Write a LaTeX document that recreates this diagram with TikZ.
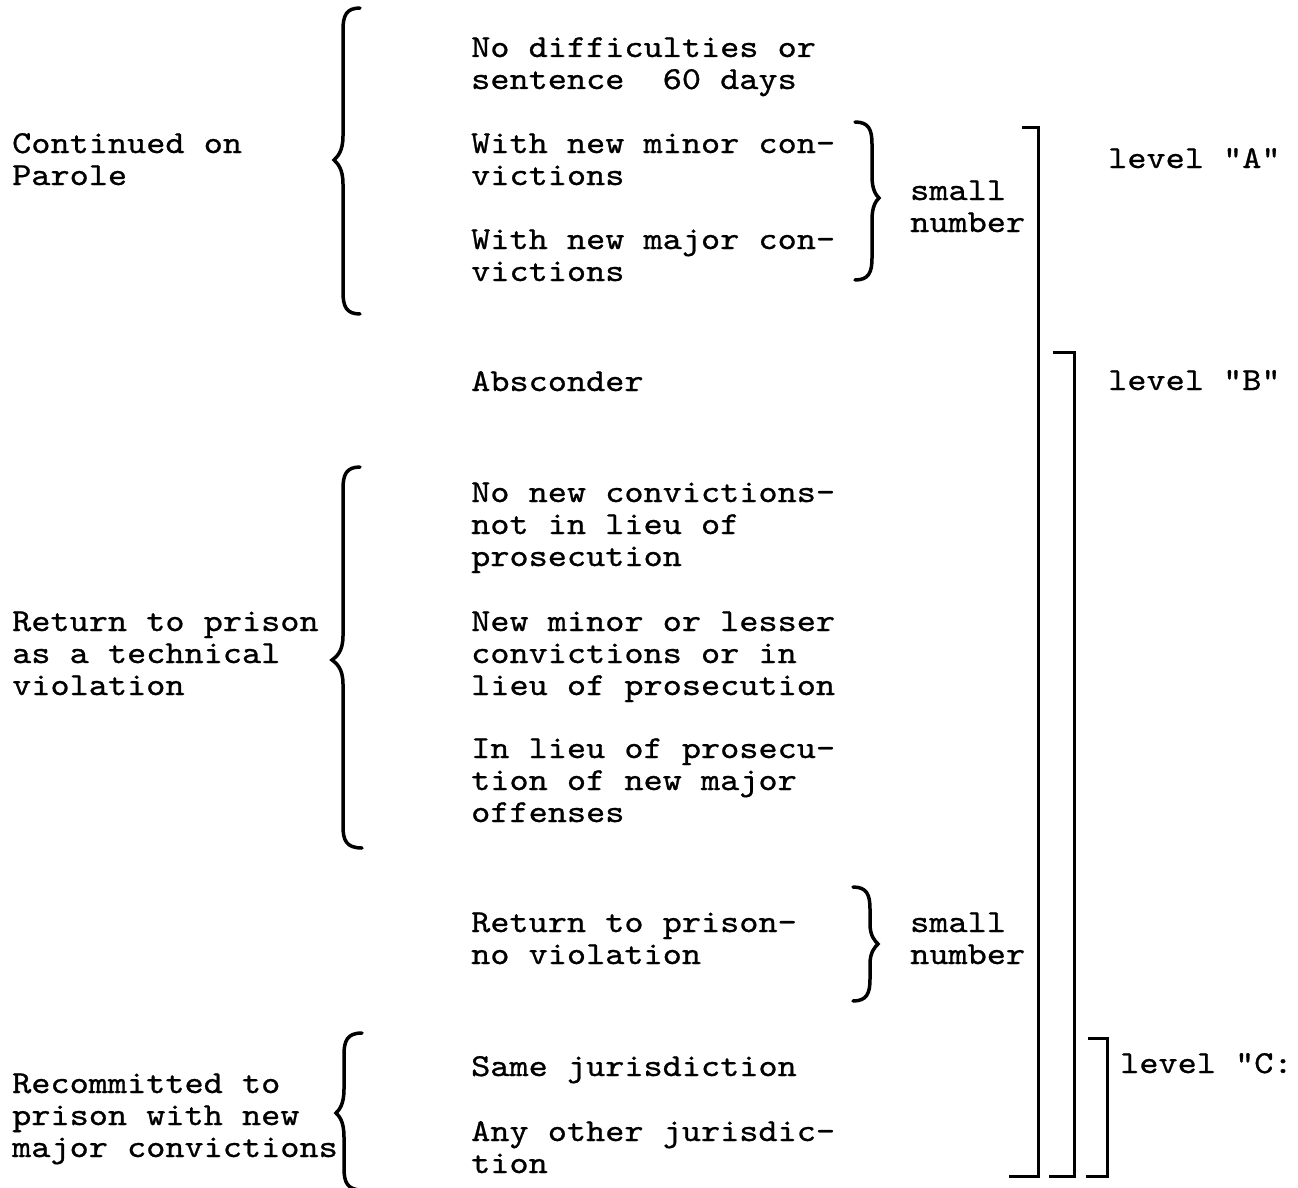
\documentclass[tikz,border=0pt]{standalone}
\usepackage{fontspec}
\newfontfamily\typefont{lmmono10-regular.otf}[FakeStretch=1.14,FakeBold=0.8]

\tikzset{
  typed/.style={anchor=base west, inner sep=0pt, align=left,
    font=\typefont\fontsize{32}{32}\selectfont},
  braceline/.style={line width=3.5pt, line cap=round},
  bracketline/.style={line width=3pt, line join=miter},
}

\begin{document}
\begin{tikzpicture}[x=1pt,y=-1pt]
  \useasboundingbox (0,0) rectangle (1298,1188);
  % left column (base = last line)
  \node[typed] (cont) at (12,185) {Continued on\\Parole};
  \node[typed] (tech) at (12,695) {Return to prison\\as a technical\\violation};
  \node[typed] (recom) at (12,1157) {Recommitted to\\prison with new\\major convictions};
  % middle column
  \node[typed] (nodiff) at (471,89) {No difficulties or\\sentence~~60 days};
  \node[typed] (minor) at (471,185) {With new minor con-\\victions};
  \node[typed] (major) at (471,281) {With new major con-\\victions};
  \node[typed] (absc) at (471,391) {Absconder};
  \node[typed] (nonew) at (471,566) {No new convictions-\\not in lieu of\\prosecution};
  \node[typed] (lesser) at (471,695) {New minor or lesser\\convictions or in\\lieu of prosecution};
  \node[typed] (inlieu) at (471,822) {In lieu of prosecu-\\tion of new major\\offenses};
  \node[typed] (noviol) at (471,964) {Return to prison-\\no violation};
  \node[typed] (same) at (471,1076) {Same jurisdiction};
  \node[typed] (other) at (471,1173) {Any other jurisdic-\\tion};
  % right column
  \node[typed] (smallA) at (910,232) {small\\number};
  \node[typed] (smallB) at (910,964) {small\\number};
  \node[typed] (levA) at (1108,168) {level "A"};
  \node[typed] (levB) at (1108,390) {level "B"};
  \node[typed] (levC) at (1120,1073) {level "C:};
  % braces
  \draw[braceline] (360,8) .. controls (346,8) and (343,16) .. (343,30) -- (343,136)
    .. controls (343,152) and (337,157) .. (334,160) .. controls (337,163) and (343,168) .. (343,184)
    -- (343,292) .. controls (343,306) and (346,314) .. (360,314);
  \draw[braceline] (360,467) .. controls (346,467) and (343,475) .. (343,489) -- (343,636)
    .. controls (343,652) and (336,657) .. (332,660) .. controls (336,663) and (343,668) .. (343,684)
    -- (343,826) .. controls (343,840) and (346,848) .. (362,848);
  \draw[braceline] (362,1033) .. controls (347,1033) and (344,1041) .. (344,1055) -- (344,1089)
    .. controls (344,1105) and (339,1110) .. (336,1113) .. controls (339,1116) and (344,1121) .. (344,1137)
    -- (344,1168) .. controls (344,1182) and (347,1190) .. (362,1190);
  \draw[braceline] (855,122) .. controls (869,122) and (872,130) .. (872,144) -- (872,176)
    .. controls (872,190) and (876,195) .. (879,198) .. controls (876,201) and (872,206) .. (872,220)
    -- (872,258) .. controls (872,272) and (869,280) .. (855,280);
  \draw[braceline] (853,887) .. controls (867,887) and (870,895) .. (870,909) -- (870,924)
    .. controls (870,936) and (875,941) .. (878,944) .. controls (875,947) and (870,952) .. (870,964)
    -- (870,979) .. controls (870,993) and (867,1001) .. (853,1001);
  % level brackets
  \draw[bracketline] (1022,128) -- (1038,128) -- (1038,1176) -- (1009,1176);
  \draw[bracketline] (1053,352) -- (1074,352) -- (1074,1176) -- (1049,1176);
  \draw[bracketline] (1088,1038) -- (1107,1038) -- (1107,1176) -- (1086,1176);
\end{tikzpicture}
\end{document}
